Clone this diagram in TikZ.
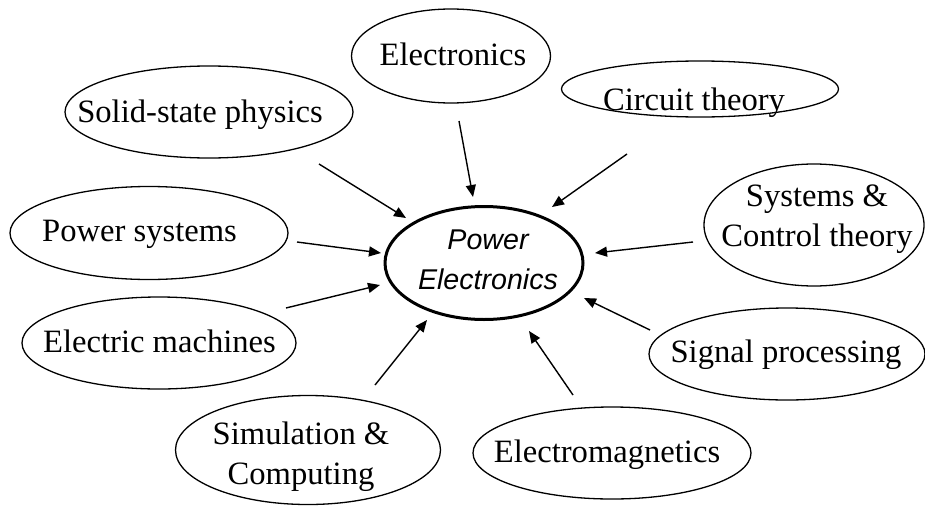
\documentclass[tikz,border=0pt]{standalone}
\usepackage{fontspec}
\setmainfont{Liberation Serif}
\newfontfamily\pefont{Liberation Sans}
\usetikzlibrary{arrows.meta,shapes.geometric}
\tikzset{
  bub/.style={ellipse, draw, line width=1.3pt, inner sep=0pt},
  pebub/.style={ellipse, draw, line width=3pt, inner sep=0pt},
  txt/.style={inner sep=0pt, align=center, font=\fontsize{32.6}{40}\selectfont},
  petxt/.style={inner sep=0pt, align=center, font=\pefont\itshape\fontsize{28.6}{40}\selectfont},
  arr/.style={line width=1.4pt, -{Triangle[length=12pt,width=10pt]}}
}
\begin{document}
\begin{tikzpicture}[x=1pt,y=-1pt]
\useasboundingbox (0,0) rectangle (925,506);
% bubbles
\node[bub, minimum width=199pt, minimum height=94pt] (elec) at (451,56) {};
\node[txt] (elec-t) at (453,54) {Electronics};
\node[bub, minimum width=277pt, minimum height=56pt] (circ) at (700,89) {};
\node[txt] (circ-t) at (694,103) {Circuit theory};
\node[bub, minimum width=288pt, minimum height=92pt] (ssp) at (209,112) {};
\node[txt] (ssp-t) at (200,114.4) {Solid-state physics};
\node[bub, minimum width=278pt, minimum height=93pt] (ps) at (149,233) {};
\node[txt] (ps-t) at (139.5,234.4) {Power systems};
\node[bub, minimum width=274pt, minimum height=92pt] (em) at (159,343) {};
\node[txt] (em-t) at (159.5,341) {Electric machines};
\node[bub, minimum width=265pt, minimum height=109pt] (sim) at (308,450) {};
\node[txt] (sim-t) at (301,457) {Simulation \&\\Computing};
\node[bub, minimum width=220pt, minimum height=122pt] (sct) at (814,225) {};
\node[txt] (sct-t) at (817,219.6) {Systems \&\\Control theory};
\node[bub, minimum width=276pt, minimum height=92pt] (sig) at (787,354) {};
\node[txt] (sig-t) at (786,354.4) {Signal processing};
\node[bub, minimum width=278pt, minimum height=92pt] (emag) at (612,453) {};
\node[txt] (emag-t) at (607,454.4) {Electromagnetics};
\node[pebub, minimum width=198pt, minimum height=113pt] (pe) at (484,263) {};
\node[petxt] (pe-t) at (488,260) {Power\\Electronics};
% arrow end points
\coordinate (a1s) at (459,121); \coordinate (a1e) at (473,197);
\coordinate (a2s) at (627,154); \coordinate (a2e) at (552,207);
\coordinate (a3s) at (319,164); \coordinate (a3e) at (406,218);
\coordinate (a4s) at (297,242); \coordinate (a4e) at (381,253);
\coordinate (a5s) at (286,308); \coordinate (a5e) at (380,285);
\coordinate (a6s) at (375,385); \coordinate (a6e) at (427,320);
\coordinate (a7s) at (693,242); \coordinate (a7e) at (595,253);
\coordinate (a8s) at (650,330); \coordinate (a8e) at (584,298);
\coordinate (a9s) at (573,395); \coordinate (a9e) at (529,331);
\draw[arr] (a1s) -- (a1e);
\draw[arr] (a2s) -- (a2e);
\draw[arr] (a3s) -- (a3e);
\draw[arr] (a4s) -- (a4e);
\draw[arr] (a5s) -- (a5e);
\draw[arr] (a6s) -- (a6e);
\draw[arr] (a7s) -- (a7e);
\draw[arr] (a8s) -- (a8e);
\draw[arr] (a9s) -- (a9e);
\end{tikzpicture}
\end{document}
